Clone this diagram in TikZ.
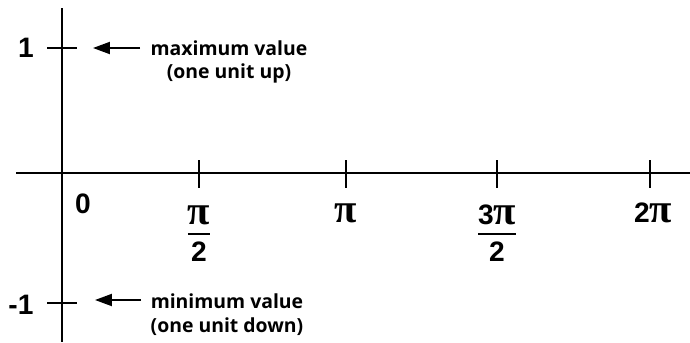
\documentclass[tikz,border=0pt]{standalone}
\usepackage{fontspec}
\setmainfont{Liberation Sans}
\newfontfamily\pifont{Liberation Serif}
\newfontfamily\notefont{Open Sans}
\usetikzlibrary{arrows.meta}
\newcommand{\PI}{{\pifont\fontsize{29}{29}\selectfont π}}
\newcommand{\halfof}[1]{{\setlength{\arrayrulewidth}{1.4pt}\begin{tabular}{@{}c@{}}#1\\[-1pt]\hline\rule{0pt}{19pt}2\end{tabular}}}
\begin{document}
\begin{tikzpicture}[x=0.025cm, y=-0.025cm,
    axis/.style={line width=1.4pt},
    num/.style={font=\fontsize{20}{22}\selectfont\bfseries, inner sep=0pt},
    note/.style={font=\notefont\fontsize{13.8}{17}\selectfont\bfseries, align=center, inner sep=0pt},
    pointer/.style={line width=1.4pt, -{Triangle[length=12pt, width=8.5pt]}}]
    \useasboundingbox (0,0) rectangle (690,342);
    % axes with ticks, one period of the sine wave
    \coordinate (xl) at (16,173);
    \coordinate (xr) at (690,173);
    \coordinate (yt) at (62,8);
    \coordinate (yb) at (62,342);
    \draw[axis] (xl) -- (xr);
    \draw[axis] (yt) -- (yb);
    \foreach \x/\name in {199/a, 346/b, 497/c, 650/d}
        \draw[axis] (\x,160) coordinate (t\name) -- (\x,188);
    \draw[axis] (47,48) -- (77,48) coordinate (ymax);
    \draw[axis] (47,303) -- (77,303) coordinate (ymin);
    % labels
    \node[num] (one) at (26,48) {1};
    \node[num] (minusone) at (21,305) {-1};
    \node[num] (zero) at (83,204) {0};
    \node[num] (halfpi) at (199,237) {\halfof{\PI}};
    \node[num, anchor=base] (pi) at (346,222) {\PI};
    \node[num] (threehalfpi) at (497,237) {\halfof{3\PI}};
    \node[num, anchor=base] (twopi) at (653,222) {2\PI};
    % notes for max and min
    \node[note] (maxnote) at (229,62) {maximum value\\(one unit up)};
    \node[note] (minnote) at (227,315) {minimum value\\(one unit down)};
    \coordinate (maxtail) at (140,48);
    \coordinate (maxtip) at (93,48);
    \coordinate (mintail) at (141,300);
    \coordinate (mintip) at (95,300);
    \draw[pointer] (maxtail) -- (maxtip);
    \draw[pointer] (mintail) -- (mintip);
\end{tikzpicture}
\end{document}
